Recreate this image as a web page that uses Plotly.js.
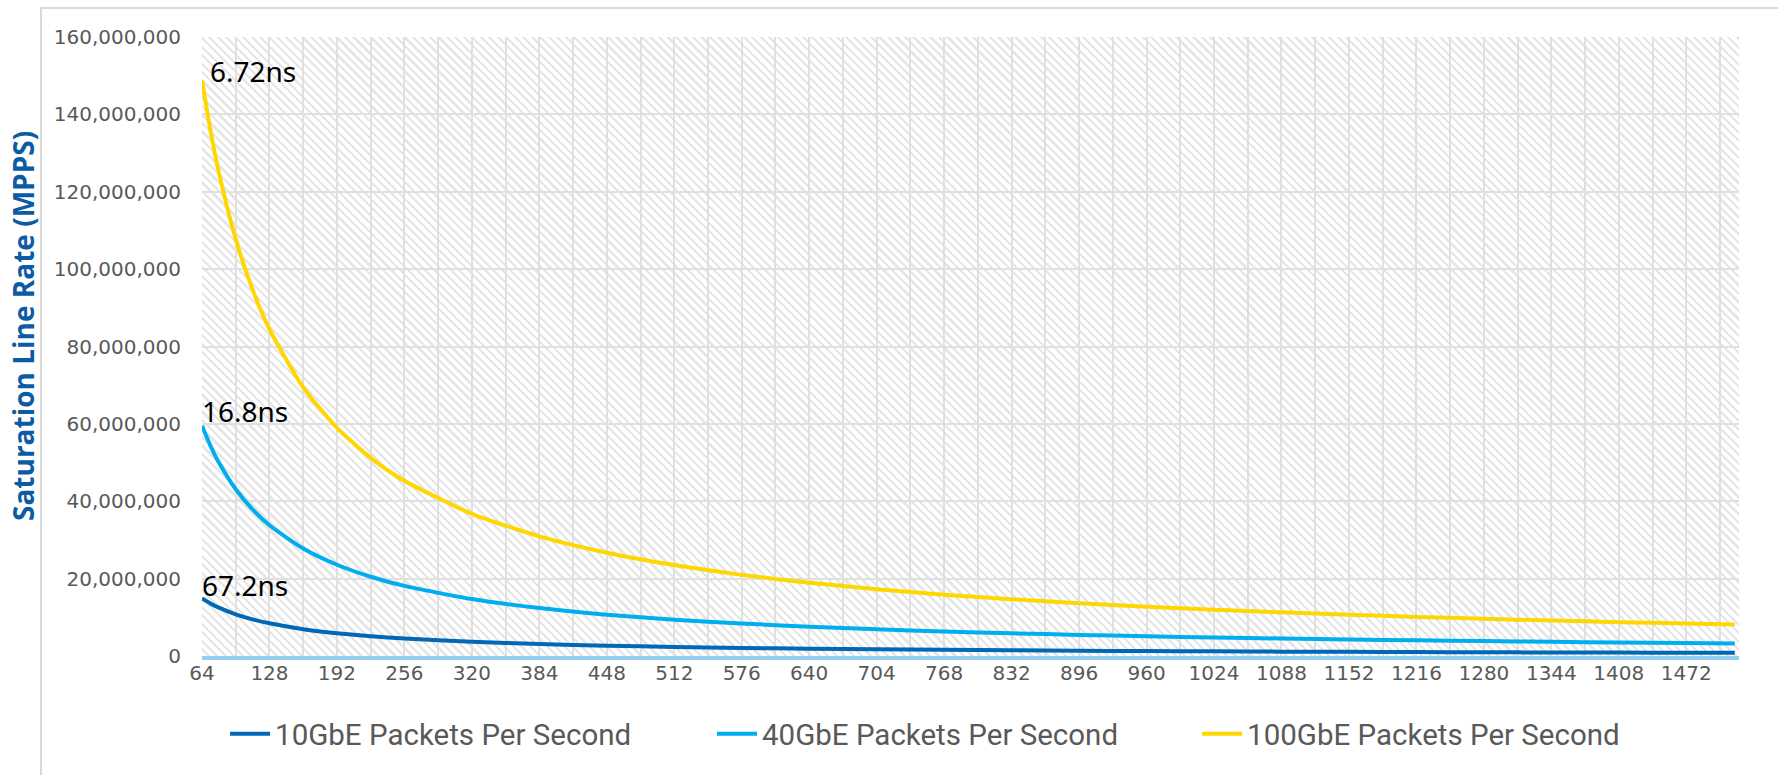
<!DOCTYPE html>
<html>
<head>
<meta charset="utf-8">
<script src="https://cdn.plot.ly/plotly-3.0.1.min.js"></script>
<style>
  html, body { margin: 0; padding: 0; background: #ffffff; }
  #wrap { position: relative; width: 1778px; height: 775px; overflow: hidden; }
  #frame { position: absolute; left: 40px; top: 7px; width: 1750px; height: 780px;
           border-left: 2px solid #d9d9d9; border-top: 2px solid #d9d9d9; box-sizing: border-box; }
  #hatch { position: absolute; left: 202px; top: 37px; width: 1537px; height: 619px;
           background: repeating-linear-gradient(45deg, #ffffff 0px, #ffffff 3.7px, #e6e6e6 3.7px, #e6e6e6 6px); }
  #chart { position: absolute; left: 0; top: 0; width: 1778px; height: 775px; }
</style>
</head>
<body>
<div id="wrap">
  <div id="frame"></div>
  <div id="hatch"></div>
  <div id="chart"></div>
</div>
<script>
// Packet size (bytes)
const packetSizes = [64, 72, 80, 96, 112, 128, 160, 192, 224, 256, 320, 384, 448, 512, 576, 640,
                     704, 768, 832, 896, 960, 1024, 1088, 1152, 1216, 1280, 1344, 1408, 1472, 1518];

// Packets per second
const pps10G = [14880000, 13590000, 12500000, 10780000, 9470000, 8450000, 6940000, 5900000, 5120000,
                4530000, 3680000, 3090000, 2670000, 2350000, 2100000, 1890000, 1730000, 1590000,
                1470000, 1360000, 1280000, 1200000, 1130000, 1070000, 1010000, 960000, 920000,
                875000, 840000, 813000];
const pps40G = [59520000, 54350000, 50000000, 43100000, 37880000, 33780000, 27780000, 23580000, 20490000,
                18120000, 14710000, 12380000, 10680000, 9400000, 8390000, 7580000, 6910000, 6350000,
                5870000, 5460000, 5100000, 4790000, 4510000, 4270000, 4050000, 3850000, 3670000,
                3500000, 3350000, 3250000];
const pps100G = [148810000, 135870000, 125000000, 107760000, 94700000, 84460000, 69440000, 58960000, 51230000,
                 45290000, 36760000, 30940000, 26710000, 23500000, 20970000, 18940000, 17270000, 15860000,
                 14670000, 13650000, 12760000, 11970000, 11280000, 10670000, 10110000, 9620000, 9160000,
                 8750000, 8380000, 8130000];

const seriesNames = ['10GbE Packets Per Second', '40GbE Packets Per Second', '100GbE Packets Per Second'];
const latencyLabels = ['67.2ns', '16.8ns', '6.72ns'];
const yAxisTitle = 'Saturation Line Rate (MPPS)';

const colors = ['#0068B5', '#00AEEF', '#FFD700'];
const series = [pps10G, pps40G, pps100G];
const legendIds = ['legend', 'legend2', 'legend3'];

const traces = series.map((vals, i) => ({
  type: 'scatter', mode: 'lines',
  x: packetSizes, y: vals, name: seriesNames[i],
  line: { color: colors[i], width: 4, shape: 'spline', smoothing: 0.6 },
  legend: legendIds[i],
  cliponaxis: false,
  hoverinfo: 'x+y+name'
}));

const labelXShift = [-2, -2, 6];
const labelYShift = [13, 15, 9];
const annotations = series.map((vals, i) => ({
  x: packetSizes[0], y: vals[0], xref: 'x', yref: 'y',
  text: latencyLabels[i], showarrow: false,
  xanchor: 'left', yanchor: 'middle',
  xshift: labelXShift[i], yshift: labelYShift[i],
  font: { family: 'Noto Sans, Open Sans, sans-serif', size: 28, color: '#000000' }
}));

// Y axis title, placed as a rotated annotation (sits slightly above the axis centre in the reference)
annotations.push({
  xref: 'paper', yref: 'paper', x: -0.1165, y: 0.533,
  xanchor: 'center', yanchor: 'middle', textangle: -90, showarrow: false,
  text: '<b>' + yAxisTitle + '</b>',
  font: { family: 'Open Sans, sans-serif', size: 28, color: '#0B5BA5' }
});

const legendFont = { family: 'Roboto, sans-serif', size: 29.5, color: '#595959' };
const legendBase = { orientation: 'h', xanchor: 'left', yanchor: 'middle', y: -0.126,
                     bgcolor: 'rgba(0,0,0,0)', font: legendFont, itemwidth: 40 };

const tickFont = { family: 'DejaVu Sans, sans-serif', size: 20, color: '#595959' };

const layout = {
  width: 1778, height: 775,
  margin: { l: 202, r: 39, t: 37, b: 119 },
  paper_bgcolor: 'rgba(0,0,0,0)',
  plot_bgcolor: 'rgba(0,0,0,0)',
  showlegend: true,
  legend: Object.assign({}, legendBase, { x: 0.015 }),
  legend2: Object.assign({}, legendBase, { x: 0.3318 }),
  legend3: Object.assign({}, legendBase, { x: 0.6474 }),
  xaxis: {
    type: 'linear', range: [64, 1522],
    tick0: 64, dtick: 64,
    showgrid: true, gridcolor: '#e0e0e0', gridwidth: 1.5,
    minor: { dtick: 32, tick0: 64, showgrid: true, gridcolor: '#e0e0e0', gridwidth: 1.5 },
    showline: true, linecolor: '#92CDEE', linewidth: 3.5,
    zeroline: false, ticks: '', ticklabelstandoff: -4,
    tickfont: tickFont
  },
  yaxis: {
    range: [0, 160000000], dtick: 20000000, tickformat: ',d',
    showgrid: true, gridcolor: '#e0e0e0', gridwidth: 1.5,
    zeroline: false, showline: false, ticks: '', ticklabelstandoff: 20,
    tickfont: tickFont
  },
  annotations: annotations
};

Plotly.newPlot('chart', traces, layout, { displayModeBar: false, responsive: false });
</script>
</body>
</html>
